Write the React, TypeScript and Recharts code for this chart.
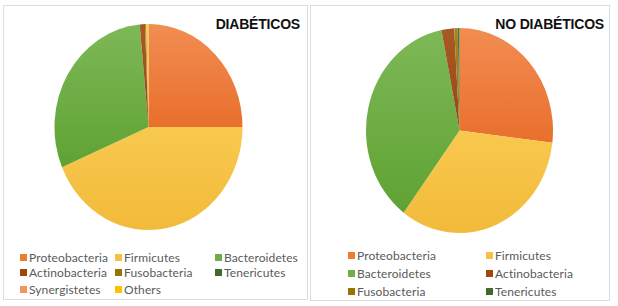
import React from 'react';
import { PieChart, Pie, Cell } from 'recharts';

const diabCategories = ['Proteobacteria', 'Firmicutes', 'Bacteroidetes', 'Actinobacteria', 'Fusobacteria', 'Tenericutes', 'Synergistetes', 'Others'];
const diabValues = [25.0, 43.6, 29.9, 0.9, 0.15, 0.05, 0.05, 0.35];

const noDiabCategories = ['Proteobacteria', 'Firmicutes', 'Bacteroidetes', 'Actinobacteria', 'Fusobacteria', 'Tenericutes'];
const noDiabValues = [26.9, 33.3, 36.7, 2.2, 0.6, 0.3];

const palette: Record<string, [string, string]> = {
  Proteobacteria: ['#F28D52', '#E96F2C'],
  Firmicutes: ['#F8C94E', '#F2BA3A'],
  Bacteroidetes: ['#7DB957', '#5FA232'],
  Actinobacteria: ['#A85A26', '#974612'],
  Fusobacteria: ['#A88422', '#94720E'],
  Tenericutes: ['#4C7433', '#3F6428'],
  Synergistetes: ['#F3A06A', '#EE8F55'],
  Others: ['#FFCB3A', '#F6C026'],
};

const legendColor: Record<string, string> = {
  Proteobacteria: '#ED7D31',
  Firmicutes: '#F6C142',
  Bacteroidetes: '#70AD47',
  Actinobacteria: '#9E480E',
  Fusobacteria: '#997300',
  Tenericutes: '#43682B',
  Synergistetes: '#F1975A',
  Others: '#FFC000',
};

const gradId = (name: string) => 'g-' + name;

// the source image is a little squashed sideways, so the pie is an ellipse
const squash = 1.096;

function LegendBlock({ names, cols, rows }: { names: string[]; cols: number[]; rows: number[] }) {
  return (
    <>
      {names.map((n, i) => {
        const c = i % cols.length;
        const r = Math.floor(i / cols.length);
        return (
          <div
            key={n}
            style={{
              position: 'absolute',
              left: cols[c],
              top: rows[r] - 8,
              height: 16,
              display: 'flex',
              alignItems: 'center',
              fontFamily: 'Lato, "Open Sans", sans-serif',
              fontSize: 12,
              letterSpacing: 0.1,
              color: '#5A5A5A',
              whiteSpace: 'nowrap',
            }}
          >
            <span style={{ display: 'inline-block', width: 7, height: 7, background: legendColor[n], marginRight: 2 }} />
            {n}
          </div>
        );
      })}
    </>
  );
}

function Panel({ left, width, height, title, titleRight, names, values, cx, cy, r, legendCols, legendRows }: any) {
  const data = names.map((n: string, i: number) => ({ name: n, value: values[i] }));
  return (
    <div style={{ position: 'absolute', left, top: 5, width, height, border: '1px solid #DADDE2', boxSizing: 'border-box', background: '#fff' }}>
      <div style={{ position: 'absolute', left: 0, top: 0, transform: `scaleY(${squash})`, transformOrigin: `0px ${cy}px` }}>
        <PieChart width={width - 2} height={240} margin={{ top: 0, right: 0, bottom: 0, left: 0 }}>
          <defs>
            {Object.keys(palette).map((k) => (
              <linearGradient key={k} id={gradId(k)} x1="0" y1="0" x2="0" y2="1">
                <stop offset="0%" stopColor={palette[k][0]} />
                <stop offset="100%" stopColor={palette[k][1]} />
              </linearGradient>
            ))}
          </defs>
          <Pie
            data={data}
            dataKey="value"
            nameKey="name"
            cx={cx}
            cy={cy}
            outerRadius={r}
            startAngle={90}
            endAngle={-270}
            stroke="none"
            isAnimationActive={false}
          >
            {data.map((d: any) => (
              <Cell key={d.name} fill={`url(#${gradId(d.name)})`} />
            ))}
          </Pie>
        </PieChart>
      </div>
      <div
        style={{
          position: 'absolute',
          right: titleRight,
          top: 10,
          fontFamily: '"Liberation Sans", Arial, sans-serif',
          fontWeight: 700,
          fontSize: 14,
          letterSpacing: -0.2,
          color: '#111',
        }}
      >
        {title}
      </div>
      <LegendBlock names={names} cols={legendCols} rows={legendRows} />
    </div>
  );
}

export default function App() {
  return (
    <div style={{ position: 'absolute', left: 0, top: 0, width: 618, height: 306, background: '#fff', overflow: 'hidden' }}>
      <Panel
        left={3}
        width={305}
        height={295}
        title="DIABÉTICOS"
        titleRight={7}
        names={diabCategories}
        values={diabValues}
        cx={144.5}
        cy={121}
        r={94}
        legendCols={[16, 111, 211]}
        legendRows={[251, 266, 283]}
      />
      <Panel
        left={310}
        width={300}
        height={296}
        title="NO DIABÉTICOS"
        titleRight={5}
        names={noDiabCategories}
        values={noDiabValues}
        cx={148.5}
        cy={124.5}
        r={93.5}
        legendCols={[37, 175]}
        legendRows={[249, 267.5, 285.5]}
      />
    </div>
  );
}
